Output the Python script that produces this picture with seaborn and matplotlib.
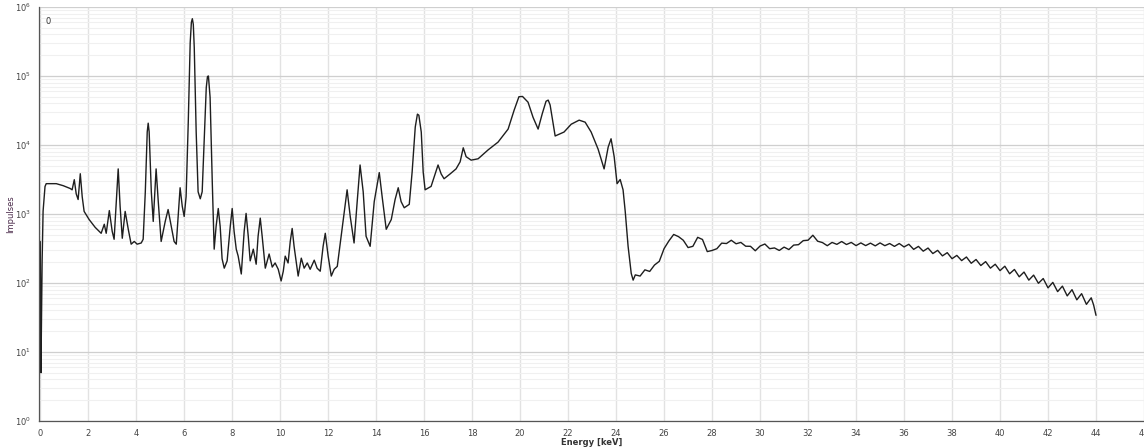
import numpy as np
import pandas as pd
import matplotlib
matplotlib.use("Agg")
import matplotlib.pyplot as plt
import matplotlib.ticker as mticker
import seaborn as sns

# spectrum: energy in keV, counts (impulses)
energy_kev = [
    0.00, 0.02, 0.03, 0.05, 0.08, 0.12, 0.20, 0.25, 0.67, 0.96,
    1.25, 1.33, 1.42, 1.50, 1.58, 1.67, 1.75, 1.83, 2.04, 2.29,
    2.54, 2.67, 2.75, 2.88, 3.00, 3.08, 3.17, 3.25, 3.33, 3.42,
    3.54, 3.67, 3.79, 3.92, 4.04, 4.21, 4.29, 4.38, 4.46, 4.50, 4.54, 4.63,
    4.71, 4.83, 4.92, 5.04, 5.21, 5.33, 5.46, 5.58, 5.67, 5.75,
    5.83, 5.92, 6.00, 6.08, 6.17, 6.25, 6.30, 6.34, 6.38, 6.42, 6.50, 6.58,
    6.67, 6.75, 6.83, 6.92, 6.97, 7.01, 7.08, 7.17, 7.25, 7.33, 7.42,
    7.50, 7.58, 7.67, 7.79, 7.92, 8.00, 8.08, 8.17, 8.25, 8.38,
    8.50, 8.58, 8.67, 8.75, 8.88, 9.00, 9.08, 9.17, 9.25, 9.38,
    9.54, 9.67, 9.79, 9.92, 10.04, 10.13, 10.21, 10.33, 10.42, 10.50,
    10.58, 10.75, 10.88, 11.00, 11.13, 11.25, 11.42, 11.54, 11.67, 11.79,
    11.88, 12.00, 12.13, 12.25, 12.38, 12.46, 12.58, 12.79, 12.92, 13.08,
    13.21, 13.33, 13.46, 13.58, 13.75, 13.92, 14.13, 14.25, 14.42, 14.63,
    14.79, 14.92, 15.04, 15.17, 15.38, 15.50, 15.63, 15.72, 15.78, 15.88, 15.96,
    16.04, 16.29, 16.46, 16.58, 16.71, 16.83, 17.08, 17.33, 17.50, 17.63,
    17.75, 17.96, 18.25, 18.67, 19.08, 19.50, 19.75, 19.95, 20.10, 20.33, 20.54,
    20.75, 20.92, 21.08, 21.17, 21.25, 21.46, 21.83, 22.13, 22.46, 22.71, 22.96,
    23.25, 23.50, 23.67, 23.79, 23.92, 24.04, 24.17, 24.29, 24.38, 24.50,
    24.63, 24.71,
    24.8, 25.0, 25.2, 25.4, 25.6, 25.8, 26.0, 26.2, 26.4, 26.6,
    26.8, 27.0, 27.2, 27.4, 27.6, 27.8, 28.0, 28.2, 28.4, 28.6,
    28.8, 29.0, 29.2, 29.4, 29.6, 29.8, 30.0, 30.2, 30.4, 30.6,
    30.8, 31.0, 31.2, 31.4, 31.6, 31.8, 32.0, 32.2, 32.4, 32.6,
    32.8, 33.0, 33.2, 33.4, 33.6, 33.8, 34.0, 34.2, 34.4, 34.6,
    34.8, 35.0, 35.2, 35.4, 35.6, 35.8, 36.0, 36.2, 36.4, 36.6,
    36.8, 37.0, 37.2, 37.4, 37.6, 37.8, 38.0, 38.2, 38.4, 38.6,
    38.8, 39.0, 39.2, 39.4, 39.6, 39.8, 40.0, 40.2, 40.4, 40.6,
    40.8, 41.0, 41.2, 41.4, 41.6, 41.8, 42.0, 42.2, 42.4, 42.6,
    42.8, 43.0, 43.2, 43.4, 43.6, 43.8, 43.9, 44.0,
]
counts = [
    400, 55, 5, 20, 210, 1100, 2500, 2750, 2750, 2570,
    2340, 2240, 3140, 1960, 1620, 3830, 1780, 1090, 830, 640,
    525, 710, 525, 1120, 560, 430, 1510, 4500, 1290, 445,
    1090, 600, 365, 400, 365, 380, 430, 2100, 15500, 20700, 15500, 2100,
    780, 4500, 1510, 400, 780, 1160, 660, 400, 365, 920,
    2400, 1290, 920, 1780, 21400, 302000, 600000, 676000, 560000, 257000, 15400, 2100,
    1660, 2100, 11000, 67800, 98000, 100000, 49000, 2950, 309, 660, 1200,
    660, 224, 164, 209, 660, 1200, 560, 309, 245, 135,
    560, 1020, 475, 209, 309, 187, 475, 870, 475, 164,
    263, 170, 195, 158, 107, 148, 245, 195, 400, 617,
    340, 126, 229, 164, 195, 158, 214, 164, 148, 340,
    525, 245, 126, 158, 174, 288, 617, 2240, 920, 380,
    1510, 5130, 2100, 475, 340, 1510, 3980, 1780, 600, 830,
    1620, 2400, 1510, 1230, 1380, 4070, 18200, 28000, 27000, 15400, 4070,
    2240, 2510, 3800, 5130, 3800, 3240, 3800, 4500, 5700, 9100,
    6760, 6030, 6310, 8510, 11000, 17000, 31900, 50000, 50500, 41700, 25100,
    17000, 28200, 43000, 44700, 38000, 13500, 15400, 20000, 22900, 21400, 15400,
    8700, 4500, 9330, 12300, 6760, 2750, 3160, 2240, 1090, 340,
    138, 110,
    131, 126, 155, 147, 182, 206, 315, 407, 505, 470,
    416, 326, 340, 459, 427, 285, 296, 314, 378, 373,
    416, 370, 387, 341, 340, 293, 343, 367, 314, 322,
    296, 331, 305, 354, 359, 411, 417, 492, 403, 385,
    347, 387, 363, 399, 361, 387, 348, 381, 348, 378,
    345, 381, 347, 373, 339, 373, 333, 364, 307, 339,
    289, 321, 267, 297, 247, 275, 225, 251, 211, 238,
    193, 219, 179, 204, 164, 187, 151, 175, 136, 157,
    123, 144, 110, 130, 99, 116, 85, 102, 75, 90,
    65, 80, 57, 70, 49, 61, 48, 34,
]

x_ticks = list(range(0, 47, 2))

df = pd.DataFrame({"Energy": energy_kev, "Impulses": counts})

sns.set_style("white")
plt.rcParams["font.family"] = ["DejaVu Sans"]

fig = plt.figure(figsize=(11.44, 4.47), dpi=100)
ax = fig.add_axes([0.0341, 0.0582, 0.9659, 0.9262])

sns.lineplot(data=df, x="Energy", y="Impulses", ax=ax, color="#1e1e1e",
             linewidth=1.0, sort=False, estimator=None)

ax.set_yscale("log")
ax.set_ylim(1, 1e6)
ax.set_xlim(-0.05, 46)

ax.set_xticks(x_ticks)
ax.xaxis.set_minor_locator(mticker.MultipleLocator(0.2))
ax.yaxis.set_major_locator(mticker.LogLocator(base=10))
ax.yaxis.set_major_formatter(mticker.LogFormatterMathtext())
ax.yaxis.set_minor_locator(mticker.LogLocator(base=10, subs=np.arange(2, 10)))
ax.yaxis.set_minor_formatter(mticker.NullFormatter())

ax.grid(axis="x", which="major", color="#e2e2e2", linewidth=1.0)
ax.grid(axis="y", which="major", color="#cfcfcf", linewidth=0.9)
ax.grid(axis="y", which="minor", color="#f0f0f0", linewidth=0.8)
ax.set_axisbelow(True)

for side in ["top", "right"]:
    ax.spines[side].set_visible(False)
for side in ["left", "bottom"]:
    ax.spines[side].set_color("#555555")
    ax.spines[side].set_linewidth(0.9)

ax.tick_params(axis="both", which="major", labelsize=6, colors="#444444",
               length=4, width=0.9, pad=2, direction="out")
ax.tick_params(axis="both", which="minor", length=2, width=0.7,
               colors="#555555", direction="out")

ax.set_xlabel("Energy [keV]", fontsize=6, fontweight="bold", color="#333333")
ax.xaxis.set_label_coords(0.5, -0.040)
ax.set_ylabel("Impulses", fontsize=6, color="#4a2a4a")
ax.yaxis.set_label_coords(-0.022, 0.5)

ax.text(0.006, 0.975, "0", transform=ax.transAxes, fontsize=6, color="#333333",
        ha="left", va="top")

fig.savefig("out.png", dpi=100, facecolor="white")
